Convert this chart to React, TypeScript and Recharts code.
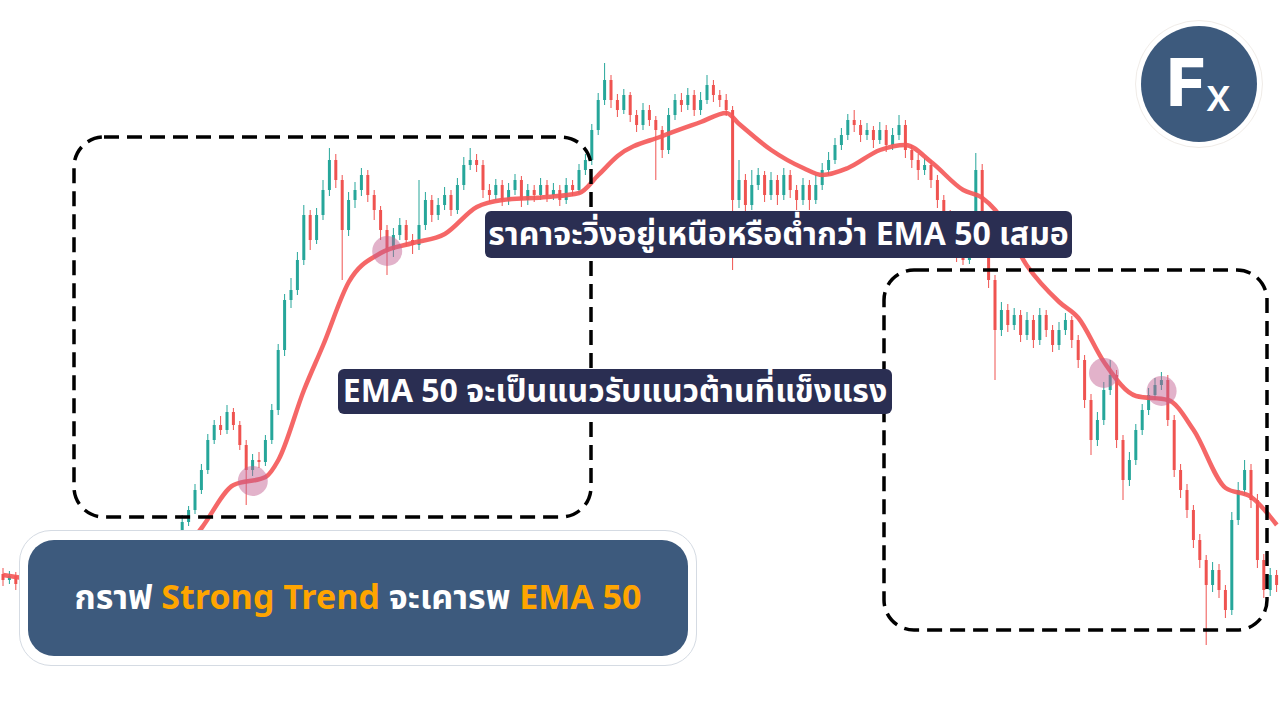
import { Bar, ComposedChart, Line, ReferenceDot, XAxis, YAxis } from 'recharts'

// candle prices, one entry per bar (200 bars)
const OPEN = [
  146, 140, 144, 136, 142, 138, 132, 126, 130, 122,
  116, 120, 124, 128, 120, 114, 118, 124, 132, 140,
  136, 144, 150, 158, 154, 164, 172, 180,
  185, 198, 210, 230, 250, 280, 295, 290, 308, 295, 275,
  250, 260, 258, 280, 310, 370, 420, 430, 460, 505,
  480, 505, 530, 560, 540, 490, 520, 530, 545, 525,
  510, 490, 470, 485, 495, 480, 475, 495, 520, 505,
  515, 525, 510, 535, 555, 560, 555, 530, 525, 535,
  520, 530, 540, 520, 530, 525, 535, 525, 530, 520,
  535, 530, 550, 560, 590, 620, 640, 620, 610, 625,
  605, 595, 610, 600, 590, 570, 605, 620, 615, 625,
  610, 620, 635, 625, 620, 610, 520, 540, 515, 535,
  545, 525, 540, 525, 545, 530, 520, 535, 520, 535,
  550, 560, 575, 585, 600, 595, 585, 590, 580, 590,
  575, 585, 595, 570, 560, 550, 555, 540, 520, 505,
  485, 465, 460, 480, 550, 500, 440, 390, 410, 395,
  405, 385, 400, 380, 405, 390, 375, 390, 400, 380,
  360, 320, 280, 300, 330, 345, 280, 240, 260, 290,
  310, 325, 335, 340, 300, 250, 230, 210, 180, 160,
  135, 150, 130, 110, 200, 230, 250, 220, 160, 130, 145,
]
const HIGH = [
  152, 149, 148, 147, 146, 142, 136, 135, 134, 126,
  125, 128, 133, 132, 124, 123, 129, 137, 145, 144,
  149, 155, 163, 162, 168, 177, 184, 190,
  205, 214, 236, 256, 286, 300, 304, 315, 312, 299, 280,
  266, 268, 285, 316, 376, 426, 442, 468, 515, 510,
  512, 540, 572, 566, 545, 528, 538, 552, 550, 530,
  514, 495, 492, 502, 500, 486, 540, 528, 525, 522,
  533, 530, 542, 563, 572, 566, 560, 536, 541, 540,
  537, 546, 544, 536, 535, 542, 540, 537, 535, 542,
  540, 556, 566, 596, 627, 657, 645, 626, 631, 628,
  610, 617, 615, 604, 594, 612, 626, 627, 632, 630,
  628, 645, 640, 630, 626, 614, 560, 546, 550, 552,
  549, 548, 545, 552, 550, 535, 542, 540, 545, 557,
  568, 582, 592, 606, 610, 600, 597, 594, 598, 595,
  592, 605, 600, 575, 566, 562, 560, 545, 525, 510,
  490, 472, 488, 567, 556, 505, 445, 418, 416, 412,
  410, 408, 405, 412, 410, 395, 398, 407, 404, 385,
  365, 326, 308, 338, 360, 350, 285, 268, 296, 316,
  332, 342, 348, 345, 305, 256, 236, 215, 186, 165,
  158, 156, 135, 208, 238, 260, 256, 226, 166, 152, 150,
]
const LOW = [
  134, 136, 130, 131, 133, 127, 121, 122, 117, 111,
  112, 115, 120, 115, 109, 110, 114, 120, 128, 131,
  132, 140, 146, 149, 150, 160, 168, 176,
  182, 194, 206, 226, 246, 276, 285, 286, 290, 270, 215,
  244, 252, 254, 276, 305, 364, 412, 425, 455, 470,
  476, 500, 524, 532, 440, 484, 512, 524, 518, 500,
  480, 445, 463, 480, 474, 466, 470, 490, 498, 500,
  510, 504, 506, 530, 550, 548, 522, 518, 520, 514,
  515, 525, 513, 515, 518, 520, 518, 520, 514, 516,
  524, 526, 545, 555, 585, 615, 612, 603, 606, 598,
  588, 590, 594, 540, 562, 566, 600, 608, 610, 604,
  605, 616, 618, 613, 604, 450, 512, 505, 510, 530,
  518, 520, 515, 520, 522, 510, 515, 510, 516, 530,
  545, 556, 570, 580, 588, 578, 580, 572, 576, 568,
  570, 580, 562, 552, 540, 545, 532, 512, 498, 478,
  458, 455, 456, 476, 494, 432, 340, 384, 388, 390,
  378, 380, 372, 375, 383, 368, 370, 385, 372, 352,
  312, 265, 274, 295, 325, 272, 220, 234, 255, 285,
  305, 320, 330, 294, 243, 222, 202, 172, 152, 75,
  128, 122, 102, 105, 195, 225, 212, 152, 122, 124, 128,
]
const CLOSE = [
  140, 144, 136, 142, 138, 132, 126, 130, 122, 116,
  120, 124, 128, 120, 114, 118, 124, 132, 140, 136,
  144, 150, 158, 154, 164, 172, 180, 185,
  198, 210, 230, 250, 280, 295, 290, 308, 295, 275, 250,
  260, 258, 280, 310, 370, 420, 430, 460, 505, 480,
  505, 530, 560, 540, 490, 520, 530, 545, 525, 510,
  490, 470, 485, 495, 480, 475, 495, 520, 505, 515,
  525, 510, 535, 555, 560, 555, 530, 525, 535, 520,
  530, 540, 520, 530, 525, 535, 525, 530, 520, 535,
  530, 550, 560, 590, 620, 640, 620, 610, 625, 605,
  595, 610, 600, 590, 570, 605, 620, 615, 625, 610,
  620, 635, 625, 620, 610, 520, 540, 515, 535, 545,
  525, 540, 525, 545, 530, 520, 535, 520, 535, 550,
  560, 575, 585, 600, 595, 585, 590, 580, 590, 575,
  585, 595, 570, 560, 550, 555, 540, 520, 505, 485,
  465, 460, 480, 550, 500, 440, 390, 410, 395, 405,
  385, 400, 380, 405, 390, 375, 390, 400, 380, 360,
  320, 280, 300, 330, 345, 280, 240, 260, 290, 310,
  325, 335, 340, 300, 250, 230, 210, 180, 160, 135,
  150, 130, 110, 200, 230, 250, 220, 160, 130, 145, 135,
]

// EMA 50 read at a handful of bars, the line is drawn through them
const EMA_BAR = [0, 3, 10, 20, 27, 31, 36, 41, 43, 47, 50, 54, 59, 64, 69, 74, 78, 85, 90, 93, 96, 103, 109, 113, 115, 120, 125, 128, 132, 137, 141, 145, 150, 153, 155, 160, 165, 168, 172, 177, 182, 186, 191, 195, 199]
const EMA_VALUE = [145, 142, 135, 145, 160, 192, 235, 243, 260, 330, 375, 438, 467, 477, 486, 513, 520, 523, 527, 545, 564, 584, 598, 607, 596, 570, 552, 545, 552, 570, 575, 558, 530, 522, 510, 454, 418, 402, 358, 324, 320, 290, 232, 223, 195]

// bars where price touches the EMA
const TOUCH_BAR = [39, 60, 172, 181]
const TOUCH_VALUE = [239, 469, 347, 329]

const UP = '#26a69a'
const DOWN = '#ef5350'
const NAVY = '#2a2e52'
const BANNER = '#3d5a7d'
const ORANGE = '#ffa500'
const THAI_FONT = "'Noto Sans Thai', 'Noto Sans', Inter, sans-serif"

type Row = { t: number; open: number; high: number; low: number; close: number; range: [number, number]; ema: number | null }

const rows: Row[] = CLOSE.map((c, i) => ({
  t: i,
  open: OPEN[i],
  high: HIGH[i],
  low: LOW[i],
  close: c,
  range: [LOW[i], HIGH[i]],
  ema: null,
}))
EMA_BAR.forEach((b, k) => {
  rows[b].ema = EMA_VALUE[k]
})

function Candle(props: any) {
  const { x, y, width, height, payload } = props
  if (!payload || x == null) return null
  const top = Math.min(y, y + height)
  const h = Math.abs(height)
  const span = payload.high - payload.low || 1
  const at = (v: number) => top + ((payload.high - v) / span) * h
  const up = payload.close >= payload.open
  const color = up ? UP : DOWN
  const cx = x + width / 2
  const bTop = at(Math.max(payload.open, payload.close))
  const bBot = at(Math.min(payload.open, payload.close))
  return (
    <g>
      <line x1={cx} x2={cx} y1={top} y2={top + h} stroke={color} strokeWidth={1} />
      <rect x={cx - 1.5} y={bTop} width={3} height={Math.max(bBot - bTop, 1)} fill={color} />
    </g>
  )
}

function Tag({ left, top, width, height, text, size }: { left: number; top: number; width: number; height: number; text: string; size: number }) {
  return (
    <div
      style={{
        position: 'absolute',
        left,
        top,
        width,
        height,
        background: NAVY,
        borderRadius: 6,
        color: '#fff',
        fontFamily: THAI_FONT,
        fontWeight: 700,
        fontSize: size,
        display: 'flex',
        alignItems: 'center',
        justifyContent: 'center',
        whiteSpace: 'nowrap',
      }}
    >
      {text}
    </div>
  )
}

export default function App() {
  return (
    <div style={{ position: 'absolute', left: 0, top: 0, width: 1280, height: 720, background: '#fff', overflow: 'hidden' }}>
      <ComposedChart width={1280} height={720} data={rows} margin={{ top: 0, right: 0, bottom: 0, left: 0 }}>
        <XAxis dataKey="t" type="category" hide />
        <YAxis type="number" domain={[0, 720]} hide />
        <Bar dataKey="range" barSize={4} shape={(p: any) => <Candle {...p} />} isAnimationActive={false} />
        <Line
          dataKey="ema"
          type="monotone"
          connectNulls
          stroke="#f45757"
          strokeWidth={4.5}
          strokeOpacity={0.9}
          dot={false}
          activeDot={false}
          isAnimationActive={false}
        />
        {TOUCH_BAR.map((b, k) => (
          <ReferenceDot key={b} x={b} y={TOUCH_VALUE[k]} r={15} fill="rgba(195,95,145,0.48)" stroke="none" />
        ))}
      </ComposedChart>

      <svg width={1280} height={720} style={{ position: 'absolute', left: 0, top: 0, pointerEvents: 'none' }}>
        <rect x={74} y={137} width={517} height={380} rx={30} fill="none" stroke="#000" strokeWidth={3.5} strokeDasharray="15 8" />
        <rect x={884} y={270} width={383} height={360} rx={30} fill="none" stroke="#000" strokeWidth={3.5} strokeDasharray="15 8" />
      </svg>

      <Tag left={485} top={211} width={587} height={47} text="ราคาจะวิ่งอยู่เหนือหรือต่ำกว่า EMA 50 เสมอ" size={32} />
      <Tag left={338} top={369} width={554} height={45} text="EMA 50 จะเป็นแนวรับแนวต้านที่แข็งแรง" size={32} />

      <div
        style={{
          position: 'absolute',
          left: 19,
          top: 530,
          width: 678,
          height: 136,
          background: '#fff',
          border: '1px solid #d5dbe3',
          borderRadius: 32,
          boxSizing: 'border-box',
        }}
      />
      <div
        style={{
          position: 'absolute',
          left: 28,
          top: 540,
          width: 660,
          height: 116,
          background: BANNER,
          borderRadius: 26,
          color: '#fff',
          fontFamily: THAI_FONT,
          fontWeight: 700,
          fontSize: 34,
          display: 'flex',
          alignItems: 'center',
          justifyContent: 'center',
          whiteSpace: 'nowrap',
        }}
      >
        <span>กราฟ&nbsp;</span>
        <span style={{ color: ORANGE }}>Strong Trend</span>
        <span>&nbsp;จะเคารพ&nbsp;</span>
        <span style={{ color: ORANGE }}>EMA 50</span>
      </div>

      <div
        style={{
          position: 'absolute',
          left: 1135,
          top: 20,
          width: 128,
          height: 128,
          borderRadius: '50%',
          background: '#fff',
          border: '1px solid #f0ece8',
          boxSizing: 'border-box',
        }}
      />
      <div
        style={{
          position: 'absolute',
          left: 1141,
          top: 26,
          width: 116,
          height: 116,
          borderRadius: '50%',
          background: BANNER,
          color: '#fff',
          fontFamily: 'Inter, sans-serif',
          fontWeight: 800,
          display: 'flex',
          alignItems: 'center',
          justifyContent: 'center',
        }}
      >
        <span style={{ fontSize: 66, lineHeight: 1, marginTop: -4 }}>F</span>
        <span style={{ fontSize: 46, lineHeight: 1, fontWeight: 500, marginTop: 20 }}>x</span>
      </div>
    </div>
  )
}
